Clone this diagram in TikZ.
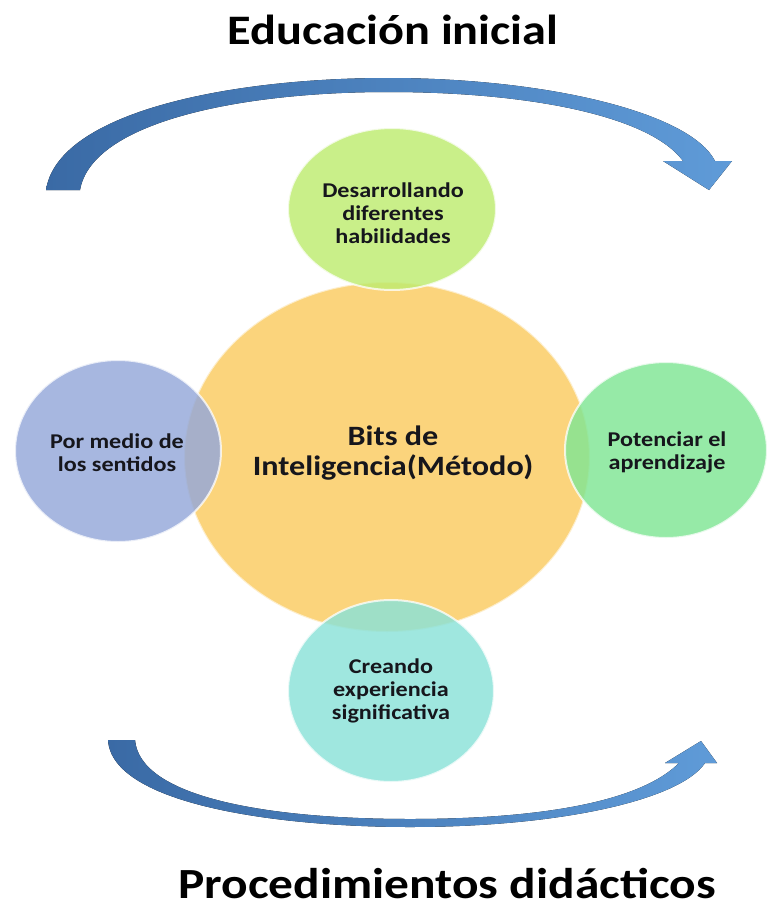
\documentclass[tikz,border=0pt]{standalone}
\usepackage{fontspec}
\setmainfont{Carlito}[FakeStretch=1.15]
\usetikzlibrary{shapes.geometric}
\definecolor{arrowdark}{RGB}{58,106,165}
\definecolor{arrowlight}{RGB}{95,155,216}
\definecolor{coreyellow}{RGB}{251,212,124}
\definecolor{topgreen}{RGB}{190,236,112}
\definecolor{leftblue}{RGB}{148,168,218}
\definecolor{rightgreen}{RGB}{128,230,148}
\definecolor{bottomcyan}{RGB}{138,226,216}
\definecolor{inktext}{RGB}{22,22,28}
\begin{document}
\begin{tikzpicture}[x=1pt,y=-1pt,
  bubble/.style={ellipse, inner sep=0pt, draw=white, draw opacity=0.75, line width=2pt, fill opacity=0.82},
  corebubble/.style={ellipse, inner sep=0pt, draw=white, draw opacity=0.6, line width=2pt},
  bubbletext/.style={align=center, text=inktext, font=\bfseries\fontsize{21}{23}\selectfont},
  coretext/.style={align=center, text=inktext, font=\bfseries\fontsize{28}{30}\selectfont},
  titletext/.style={anchor=base, text=black, font=\bfseries\fontsize{42}{48}\selectfont},
  bigarrow/.style={draw=none, left color=arrowdark, right color=arrowlight}]
\useasboundingbox (0,0) rectangle (767,907);
\fill[white] (0,0) rectangle (767,907);

% top curved arrow
\fill[bigarrow] (46,190) .. controls (58,112) and (230,78) .. (388,78)
  .. controls (545,78) and (690,112) .. (715,161) -- (732,161) -- (709,190) -- (663,161) -- (683,161)
  .. controls (650,116) and (530,92) .. (388,92)
  .. controls (240,92) and (92,122) .. (80,190) -- cycle;

% bottom curved arrow
\fill[bigarrow] (108,740) .. controls (112,805) and (280,827) .. (410,827)
  .. controls (560,827) and (680,800) .. (705,763) -- (717,763) -- (701,741) -- (665,763) -- (679,763)
  .. controls (640,802) and (540,819) .. (410,819)
  .. controls (270,819) and (140,798) .. (135,740) -- cycle;

% circles
\node[corebubble, fill=coreyellow, minimum width=406pt, minimum height=350pt] (core) at (387,457) {};
\node[bubble, fill=topgreen, minimum width=208pt, minimum height=162pt] (top) at (392,209) {};
\node[bubble, fill=leftblue, minimum width=206pt, minimum height=182pt] (left) at (118,451) {};
\node[bubble, fill=rightgreen, minimum width=202pt, minimum height=176pt] (right) at (666,450) {};
\node[bubble, fill=bottomcyan, minimum width=206pt, minimum height=182pt] (bottom) at (391,691) {};

% texts
\node[coretext] (tcore) at (393,453) {Bits de\\Inteligencia(Método)};
\node[bubbletext] (ttop) at (393,213) {Desarrollando\\diferentes\\habilidades};
\node[bubbletext] (tleft) at (117,453) {Por medio de\\los sentidos};
\node[bubbletext] (tright) at (667,452) {Potenciar el\\aprendizaje};
\node[bubbletext] (tbottom) at (391,691) {Creando\\experiencia\\significativa};

\node[titletext] (title) at (393,45) {Educación inicial};
\node[titletext, font=\bfseries\fontsize{43}{48}\selectfont] (subtitle) at (447,898) {Procedimientos didácticos};
\end{tikzpicture}
\end{document}
